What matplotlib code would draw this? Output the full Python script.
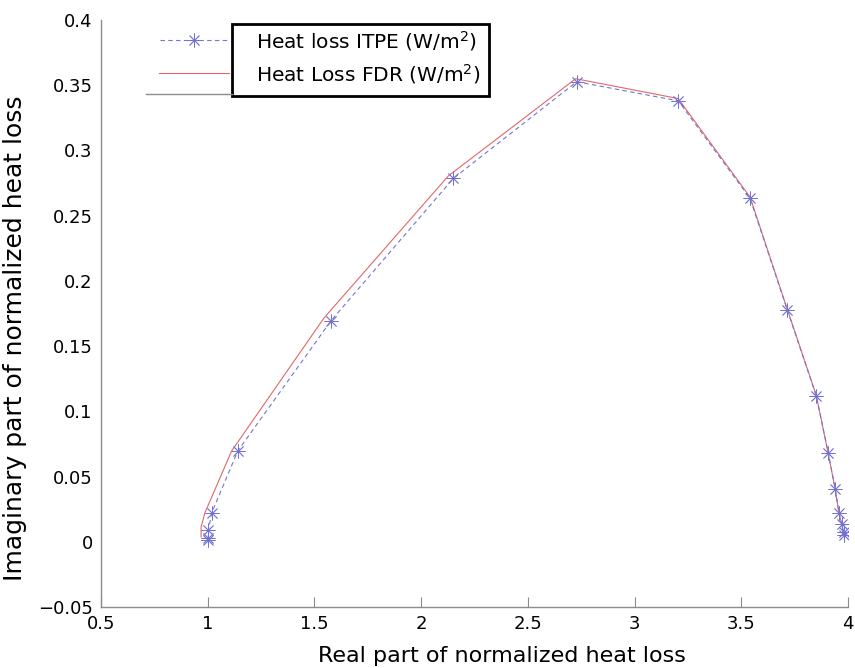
import numpy as np
import matplotlib.pyplot as plt
from matplotlib.lines import Line2D
from matplotlib.patches import Rectangle

plt.rcParams['font.family'] = ['DejaVu Sans']
plt.rcParams['mathtext.default'] = 'regular'

# ITPE heat loss (real, imaginary)
itpe_re = [1.003, 1.003, 1.003, 1.019, 1.141, 1.578, 2.151, 2.729, 3.205,
           3.541, 3.715, 3.851, 3.908, 3.940, 3.958, 3.971, 3.979, 3.983]
itpe_im = [0.0015, 0.003, 0.009, 0.0223, 0.0696, 0.1695, 0.2786, 0.3527, 0.338,
           0.2633, 0.178, 0.112, 0.0678, 0.0402, 0.0218, 0.0136, 0.0078, 0.0052]

# FDR heat loss (real, imaginary)
fdr_re = [0.969, 0.969, 0.987, 1.112, 1.545, 2.127, 2.724, 3.204,
          3.541, 3.715, 3.851, 3.907, 3.940, 3.958, 3.970, 3.977, 3.982]
fdr_im = [0.0037, 0.0113, 0.0223, 0.0696, 0.1716, 0.2804, 0.355, 0.3398,
          0.2643, 0.1785, 0.1125, 0.068, 0.0405, 0.022, 0.0136, 0.008, 0.005]

labels = ['Heat loss ITPE (W/m$^2$)', 'Heat Loss FDR (W/m$^2$)']
xticks = [0.5, 1, 1.5, 2, 2.5, 3, 3.5, 4]
yticks = [-0.05, 0, 0.05, 0.1, 0.15, 0.2, 0.25, 0.3, 0.35, 0.4]

blue = '#7474d0'
red = '#e06868'
gray = '#8c8c8c'
W, H = 855, 668

fig = plt.figure(figsize=(8.55, 6.68), dpi=100)
ax = fig.add_axes([101/W, 1-607/H, (848-101)/W, (607-20)/H])

ax.plot(fdr_re, fdr_im, color=red, lw=0.8)
ax.plot(itpe_re, itpe_im, color=blue, lw=0.8, ls=(0, (4, 3)),
        marker=(8, 2, 0), markersize=10, markeredgewidth=0.6)

ax.set_xlim(0.5, 4)
ax.set_ylim(-0.05, 0.4)
ax.set_xticks(xticks)
ax.set_xticklabels(['0.5', '1', '1.5', '2', '2.5', '3', '3.5', '4'])
ax.set_yticks(yticks)
ax.set_yticklabels(['\u22120.05', '0', '0.05', '0.1', '0.15', '0.2', '0.25',
                    '0.3', '0.35', '0.4'])
for s in ['top', 'right']:
    ax.spines[s].set_visible(False)
for s in ['left', 'bottom']:
    ax.spines[s].set_color(gray)
    ax.spines[s].set_linewidth(1.0)
ax.tick_params(direction='in', length=7, width=0.8, color=gray, labelsize=13)
ax.tick_params(axis='x', pad=6)
ax.tick_params(axis='y', length=0, pad=6)

ax.set_xlabel('Real part of normalized heat loss', fontsize=16)
ax.set_ylabel('Imaginary part of normalized heat loss', fontsize=18)
# labels sit a bit off-centre in the original
ax.xaxis.set_label_coords(0.537, -0.067)
ax.yaxis.set_label_coords(-0.099, 0.458)

# legend drawn like the original (handles sitting left of the box)
fig.patches.append(Rectangle((232/W, 1-96/H), (489-232)/W, (96-24)/H,
                             transform=fig.transFigure, fill=False,
                             edgecolor='black', lw=2))
fig.lines.append(Line2D([160/W, 228/W], [1-40/H, 1-40/H], transform=fig.transFigure,
                        color=blue, lw=0.8, ls=(0, (4, 3))))
fig.lines.append(Line2D([194/W], [1-40/H], transform=fig.transFigure,
                        color=blue, marker=(8, 2, 0), markersize=10,
                        markeredgewidth=0.6, ls='none'))
fig.lines.append(Line2D([159/W, 229/W], [1-73/H, 1-73/H], transform=fig.transFigure,
                        color=red, lw=0.8))
fig.lines.append(Line2D([146/W, 232/W], [1-94/H, 1-94/H], transform=fig.transFigure,
                        color=gray, lw=1.0))
fig.text(256/W, 1-41/H, labels[0], fontsize=14.5, va='center')
fig.text(256/W, 1-74/H, labels[1], fontsize=14.5, va='center')

fig.savefig('out.png', dpi=100)
